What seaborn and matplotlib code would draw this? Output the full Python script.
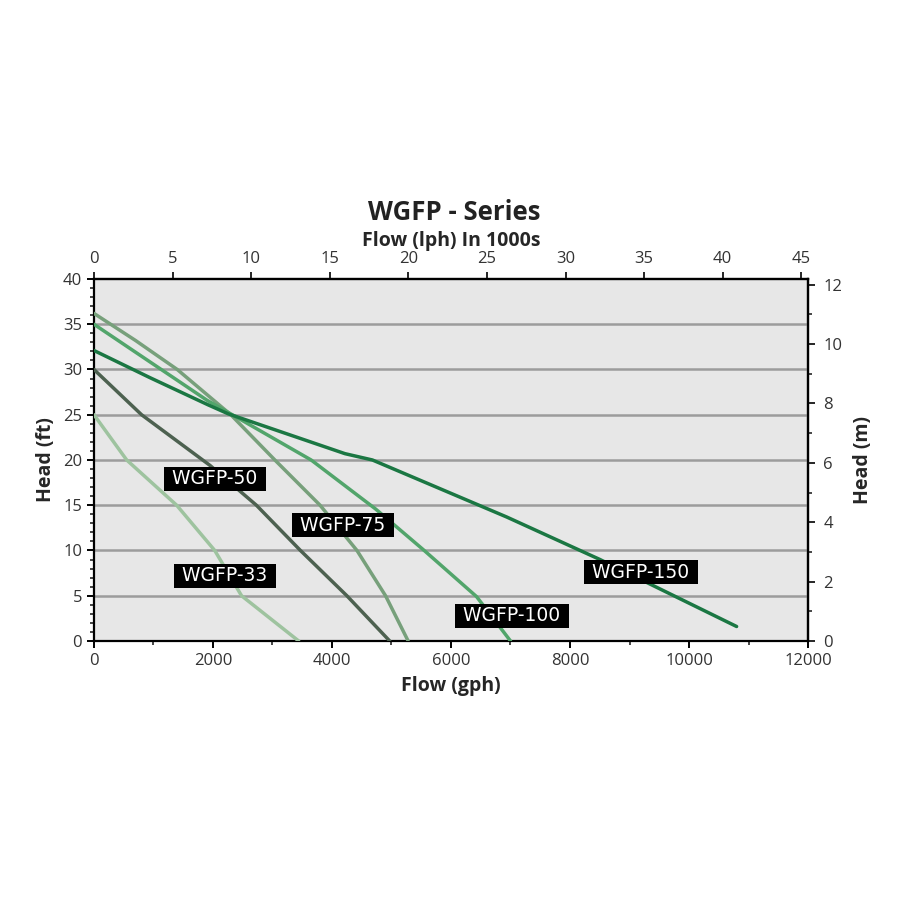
import matplotlib
matplotlib.use("Agg")
import matplotlib.pyplot as plt
import numpy as np
import pandas as pd
import seaborn as sns

# pump curves: flow (gph) vs head (ft)
gph_33 = [0, 550, 1390, 2030, 2480, 3440]
ft_33 = [25, 20, 15, 10, 5, 0]

gph_50 = [0, 800, 1950, 2730, 3470, 4250, 4970]
ft_50 = [30, 25, 19.4, 15, 10, 5, 0]

gph_75 = [0, 700, 1400, 2300, 3040, 3800, 4420, 4900, 5280]
ft_75 = [36.2, 33.2, 30, 25, 20, 15, 10, 5, 0]

gph_100 = [0, 950, 1900, 2430, 3650, 4730, 5550, 6430, 7000]
ft_100 = [35, 30.8, 26.6, 24.6, 20, 14.6, 10, 4.9, 0]

gph_150 = [0, 940, 1916, 2257, 4218, 4680, 6936, 8504, 10800]
ft_150 = [32.1, 29.1, 26.1, 25.1, 20.7, 20, 13.7, 9.0, 1.6]

models = ["WGFP-33", "WGFP-50", "WGFP-75", "WGFP-100", "WGFP-150"]
colors = ["#9ec39f", "#4d6150", "#77a07b", "#52a56b", "#1b7743"]

# label boxes (centre, data coords)
label_pos = {
    "WGFP-50": (2034, 17.9),
    "WGFP-75": (4185, 12.8),
    "WGFP-33": (2200, 7.2),
    "WGFP-100": (7025, 2.8),
    "WGFP-150": (9193, 7.6),
}

GPH_TO_KLPH = 3.78541 / 1000.0
FT_TO_M = 0.3048

frames = []
for name, xs, ys in zip(models,
                        [gph_33, gph_50, gph_75, gph_100, gph_150],
                        [ft_33, ft_50, ft_75, ft_100, ft_150]):
    frames.append(pd.DataFrame({"gph": xs, "ft": ys, "model": name}))
df = pd.concat(frames, ignore_index=True)

sns.set_theme(style="ticks")
plt.rcParams["font.family"] = ["Open Sans", "DejaVu Sans"]
plt.rcParams["axes.linewidth"] = 1.6

fig = plt.figure(figsize=(9, 9), dpi=100)
ax = fig.add_axes([0.1044, 0.2878, 0.7934, 0.4022])
ax.set_facecolor("#e7e7e7")

for y in range(5, 40, 5):
    ax.axhline(y, color="#9c9c9c", linewidth=1.8, zorder=1)

sns.lineplot(data=df, x="gph", y="ft", hue="model", hue_order=models,
             palette=dict(zip(models, colors)), estimator=None, sort=False,
             linewidth=2.5, legend=False, ax=ax, zorder=3)

for name, (x, y) in label_pos.items():
    ax.text(x, y, " " + name + " ", ha="center", va="center", color="white",
            fontsize=13.5, family="DejaVu Sans", zorder=5,
            bbox=dict(boxstyle="square,pad=0.14", facecolor="black", edgecolor="none"))

ax.set_xlim(0, 12000)
ax.set_ylim(0, 40)
ax.set_xticks(np.arange(0, 12001, 2000))
ax.set_xticks(np.arange(0, 12001, 1000), minor=True)
ax.set_yticks(np.arange(0, 41, 5))
ax.set_yticks(np.arange(0, 41, 1), minor=True)
ax.tick_params(axis="both", which="major", direction="out", length=5, width=1.4,
               labelsize=12, colors="black", labelcolor="#333333")
ax.tick_params(axis="both", which="minor", direction="out", length=3, width=1.2)
ax.set_xlabel("Flow (gph)", fontsize=14, fontweight="bold", labelpad=5)
ax.set_ylabel("Head (ft)", fontsize=14, fontweight="bold", labelpad=5)
for s in ax.spines.values():
    s.set_visible(True)
    s.set_color("black")

top = ax.secondary_xaxis("top", functions=(lambda g: g * GPH_TO_KLPH,
                                           lambda l: l / GPH_TO_KLPH))
top.set_xticks(np.arange(0, 46, 5))
top.tick_params(direction="out", length=5, width=1.4, labelsize=12, labelcolor="#333333")
top.set_xlabel("Flow (lph) In 1000s", fontsize=14, fontweight="bold", labelpad=4)

right = ax.secondary_yaxis("right", functions=(lambda f: f * FT_TO_M,
                                               lambda m: m / FT_TO_M))
right.set_yticks(np.arange(0, 13, 2))
right.set_yticks(np.arange(0, 13, 1), minor=True)
right.tick_params(which="major", direction="out", length=5, width=1.4, labelsize=12,
                  labelcolor="#333333", pad=6)
right.tick_params(which="minor", direction="out", length=3, width=1.2)
right.set_ylabel("Head (m)", fontsize=14, fontweight="bold", labelpad=8)

fig.text(0.505, 0.764, "WGFP - Series", ha="center", va="center",
         fontsize=18.5, fontweight="bold", color="#222222")

fig.savefig("out.png", dpi=100)
